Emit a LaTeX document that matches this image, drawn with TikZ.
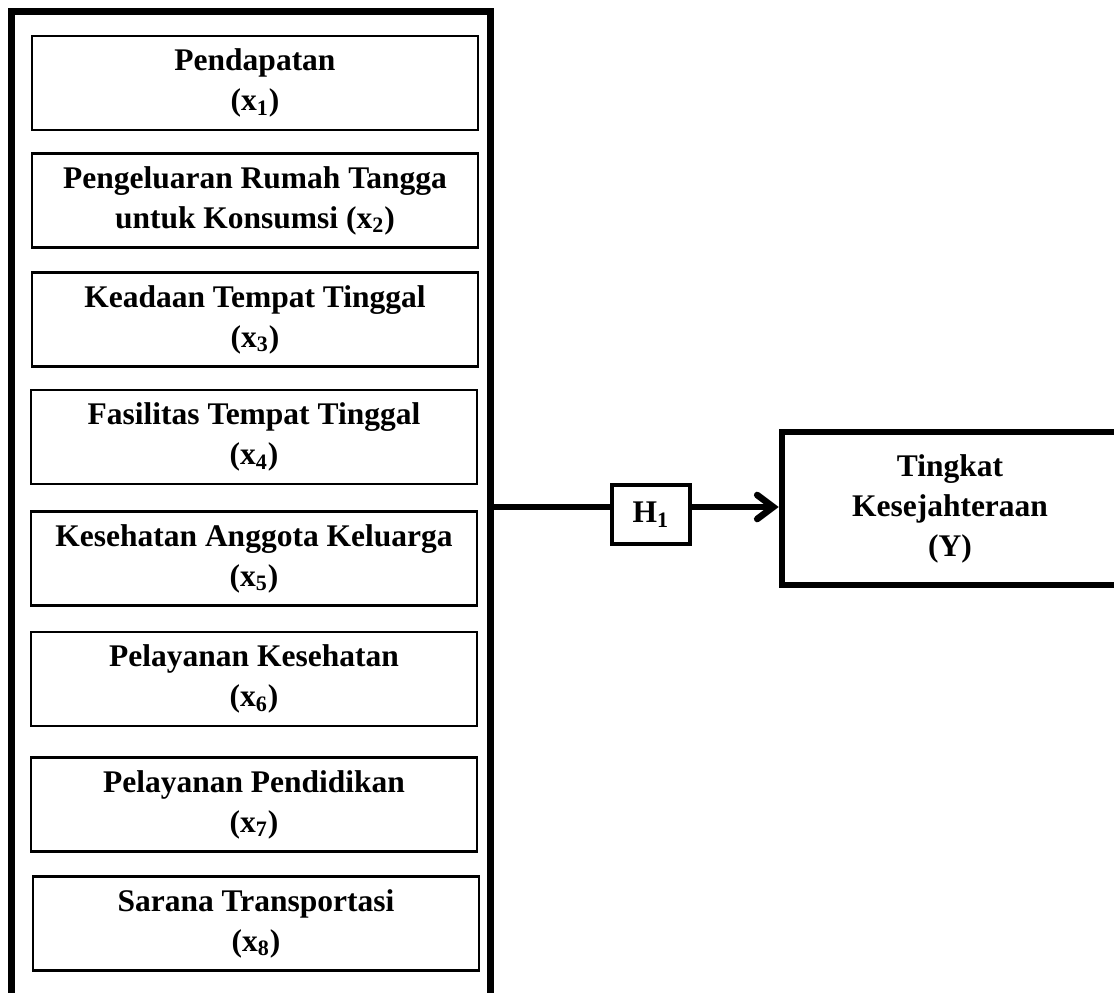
\documentclass[tikz,border=0pt]{standalone}
\usepackage{fontspec}
\setmainfont{Liberation Serif}
\usetikzlibrary{arrows.meta,positioning}

\tikzset{
	teks/.style={font=\bfseries\fontsize{15.75}{20}\selectfont,align=center,inner sep=0pt},
	varbox/.style={teks,draw,line width=1.3pt,minimum width=223pt,minimum height=47pt},
	hipbox/.style={teks,draw,line width=2.2pt,minimum width=39pt,minimum height=29.5pt},
	ybox/.style={teks,draw,line width=3.3pt,minimum width=168pt,minimum height=76.5pt},
	tebal/.style={line width=3.3pt},
	panah/.style={line width=3.3pt,-{Straight Barb[length=8pt,width=12pt,line cap=round]}}
}

\begin{document}
\begin{tikzpicture}[x=0.5pt,y=-0.5pt]
	\useasboundingbox (0,0) rectangle (1114,992);
	% kotak besar variabel x
	\draw[tebal] (11.5,1010) -- (11.5,11.5) -- (490.7,11.5) -- (490.7,1010);
	\node[varbox] (x1) at (255,83) {Pendapatan\\(x\textsubscript{1})};
	\node[varbox] (x2) at (255,200.5) {Pengeluaran Rumah Tangga\\untuk Konsumsi (x\textsubscript{2})};
	\node[varbox] (x3) at (255,319.5) {Keadaan Tempat Tinggal\\(x\textsubscript{3})};
	\node[varbox] (x4) at (254,437) {Fasilitas Tempat Tinggal\\(x\textsubscript{4})};
	\node[varbox] (x5) at (254,558.5) {Kesehatan Anggota Keluarga\\(x\textsubscript{5})};
	\node[varbox] (x6) at (254,679) {Pelayanan Kesehatan\\(x\textsubscript{6})};
	\node[varbox] (x7) at (254,804.5) {Pelayanan Pendidikan\\(x\textsubscript{7})};
	\node[varbox] (x8) at (256,923.5) {Sarana Transportasi\\(x\textsubscript{8})};
	% hipotesis dan variabel y
	\coordinate (kiri) at (490.7,507);
	\node[hipbox] (h1) at (651,514.5) {H\textsubscript{1}};
	\node[ybox] (y) at (950,508.5) {Tingkat\\Kesejahteraan\\(Y)};
	\draw[tebal] (kiri) -- (kiri -| h1.west);
	\draw[panah] (kiri -| h1.east) -- (kiri -| y.west);
\end{tikzpicture}
\end{document}
